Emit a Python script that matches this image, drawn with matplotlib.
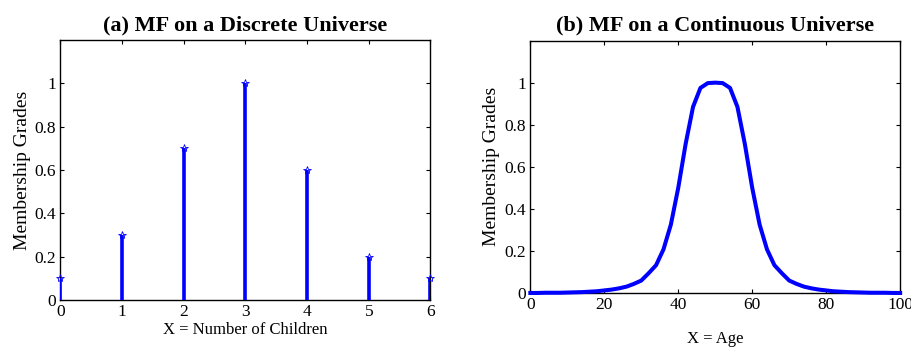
import matplotlib.pyplot as plt

plt.rcParams['font.family'] = ['Liberation Serif', 'DejaVu Serif']

# (a) discrete universe: number of children
children = [0, 1, 2, 3, 4, 5, 6]
grades_discrete = [0.1, 0.3, 0.7, 1.0, 0.6, 0.2, 0.1]

# (b) continuous universe: age (step 2)
age = list(range(0, 101, 2))
grades_age = [0.0, 0.0, 0.001, 0.001, 0.001, 0.002, 0.003, 0.004, 0.006, 0.008,
              0.012, 0.016, 0.022, 0.03, 0.043, 0.059, 0.094, 0.132, 0.207, 0.325,
              0.5, 0.709, 0.885, 0.975, 0.998, 1.0, 0.998, 0.975, 0.885, 0.709,
              0.5, 0.325, 0.207, 0.132, 0.094, 0.059, 0.043, 0.03, 0.022, 0.016,
              0.012, 0.008, 0.006, 0.004, 0.003, 0.002, 0.001, 0.001, 0.001, 0.0,
              0.0]

yticks = [0, 0.2, 0.4, 0.6, 0.8, 1]
ytick_labels = ['0', '0.2', '0.4', '0.6', '0.8', '1']

fig = plt.figure(figsize=(9.12, 3.5), dpi=100)
ax1 = fig.add_axes([0.0663, 0.143, 0.4057, 0.743])
ax2 = fig.add_axes([0.5815, 0.163, 0.4055, 0.721])

blue = '#0000ff'

# stem plot
ax1.vlines(children, 0, grades_discrete, color=blue, linewidth=2.6, zorder=3)
ax1.plot(children, grades_discrete, linestyle='none', marker='*', color=blue,
         markersize=6, markeredgewidth=0.6, markerfacecolor='none', zorder=4,
         clip_on=False)
ax1.set_xlim(0, 6)
ax1.set_ylim(0, 1.2)
ax1.set_xticks(children)
ax1.set_title('(a) MF on a Discrete Universe', fontsize=16, fontweight='bold', pad=7)
ax1.set_xlabel('X = Number of Children', fontsize=12, labelpad=1)
ax1.set_ylabel('Membership Grades', fontsize=14, labelpad=3)

# bell curve
ax2.plot(age, grades_age, color=blue, linewidth=2.9, clip_on=False, zorder=3)
ax2.set_xlim(0, 100)
ax2.set_ylim(0, 1.2)
ax2.set_xticks([0, 20, 40, 60, 80, 100])
ax2.set_title('(b) MF on a Continuous Universe', fontsize=16, fontweight='bold', pad=7)
ax2.set_xlabel('X = Age', fontsize=12, labelpad=13)
ax2.set_ylabel('Membership Grades', fontsize=14, labelpad=3)

for ax in (ax1, ax2):
    ax.set_yticks(yticks)
    ax.set_yticklabels(ytick_labels)
    ax.tick_params(direction='in', top=True, right=True, length=3, width=0.8,
                   labelsize=12.5, pad=3)
    for s in ax.spines.values():
        s.set_linewidth(1.0)

fig.savefig('out.png', dpi=100)
